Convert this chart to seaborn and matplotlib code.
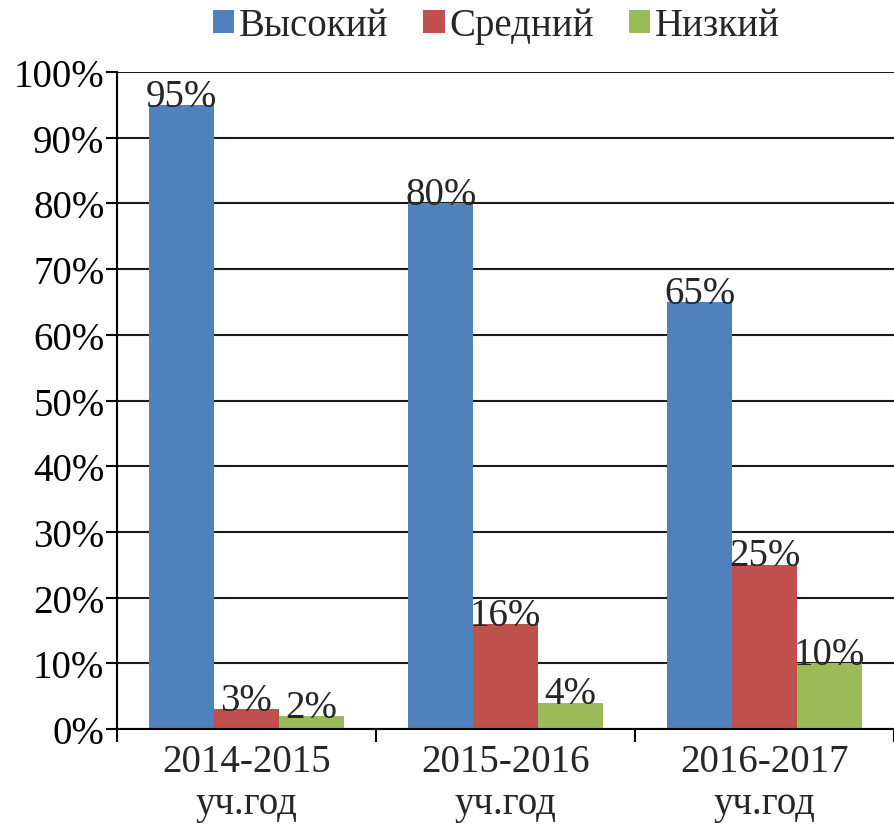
import pandas as pd
import numpy as np
import matplotlib.pyplot as plt
import seaborn as sns

# data
years = ['2014-2015\nуч.год', '2015-2016\nуч.год', '2016-2017\nуч.год']
levels = ['Высокий', 'Средний', 'Низкий']
high = [95, 80, 65]
mid = [3, 16, 25]
low = [2, 4, 10]
colors = ['#4F81BD', '#C0504D', '#9BBB59']

df = pd.DataFrame({
    'year': years * 3,
    'level': np.repeat(levels, len(years)),
    'value': high + mid + low,
})

sns.set_style('white')
plt.rcParams['font.family'] = ['Liberation Serif', 'DejaVu Serif']
fs = 28

fig = plt.figure(figsize=(8.94, 8.28), dpi=100)
ax = fig.add_axes([117 / 894, 1 - 730 / 828, 1 - 117 / 894, 657 / 828])

sns.barplot(data=df, x='year', y='value', hue='level', hue_order=levels,
            palette=colors, saturation=1, width=0.75, linewidth=0, ax=ax)

# value labels on top of the bars
for c in ax.containers:
    ax.bar_label(c, labels=[f'{v:g}%' for v in c.datavalues],
                 padding=-7, fontsize=fs)

# y axis
ax.set_ylim(0, 100)
ax.set_yticks(range(0, 101, 10))
ax.set_yticklabels([f'{t}%' for t in range(0, 101, 10)])
ax.yaxis.grid(True, color='#1a1a1a', lw=1.5)
ax.set_axisbelow(True)
ax.tick_params(axis='y', length=8, width=1.5, direction='out', pad=1,
               labelsize=fs, left=True, colors='black')

# x axis: category labels, separator ticks between groups
ax.set_xlim(-0.5, -0.5 + (894 - 117) / 261.5)
ax.set_xticks([-0.5, 0.5, 1.5, 2.5], minor=True)
ax.tick_params(axis='x', which='major', length=0, pad=10, labelsize=fs)
ax.tick_params(axis='x', which='minor', length=9, width=1.5,
               direction='out', bottom=True, colors='black')
for lbl in ax.get_xticklabels():
    lbl.set_linespacing(1.17)

ax.set_xlabel('')
ax.set_ylabel('')
for s in ['top', 'right']:
    ax.spines[s].set_visible(False)
for s in ['left', 'bottom']:
    ax.spines[s].set_color('black')
    ax.spines[s].set_linewidth(1.5)

# legend at the top
handles, labels = ax.get_legend_handles_labels()
ax.get_legend().remove()
fig.legend(handles, labels, loc='center', bbox_to_anchor=(0.555, 0.968),
           ncol=3, frameon=False, fontsize=fs, handlelength=0.55,
           handleheight=0.55, handletextpad=0.12, columnspacing=0.9)

fig.savefig('out.png', dpi=100)
